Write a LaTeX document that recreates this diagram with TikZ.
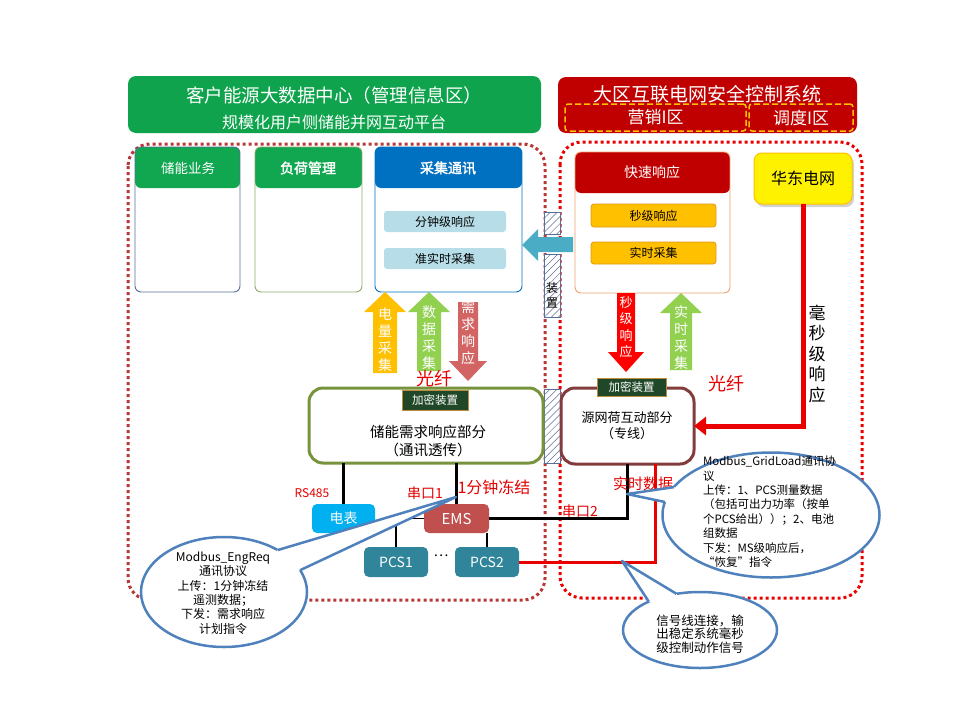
\documentclass[tikz,border=0pt]{standalone}
\usepackage{fontspec}
\setmainfont{Noto Sans CJK SC}[AutoFakeBold=2]
\usetikzlibrary{patterns.meta,arrows.meta,shapes.geometric,shadows}
\definecolor{hgreen}{RGB}{14,163,76}
\definecolor{bgreen}{RGB}{17,166,80}
\definecolor{hblue}{RGB}{0,112,192}
\definecolor{dred}{RGB}{192,0,0}
\definecolor{ldred}{RGB}{185,55,55}
\definecolor{bred}{RGB}{235,0,0}
\definecolor{gold}{RGB}{255,192,0}
\definecolor{dgold}{RGB}{225,150,20}
\definecolor{lgreen}{RGB}{146,208,80}
\definecolor{rose}{RGB}{210,100,100}
\definecolor{tealA}{RGB}{75,172,198}
\definecolor{ltteal}{RGB}{183,222,232}
\definecolor{cyanB}{RGB}{0,176,240}
\definecolor{emsred}{RGB}{192,80,77}
\definecolor{pcsteal}{RGB}{49,133,155}
\definecolor{callb}{RGB}{79,129,189}
\definecolor{oliveB}{RGB}{119,147,60}
\definecolor{maroonB}{RGB}{130,60,60}
\definecolor{encg}{RGB}{32,72,40}
\definecolor{encb}{RGB}{190,140,60}
\definecolor{pgrey}{RGB}{90,110,150}
\definecolor{pgreen}{RGB}{140,170,110}
\definecolor{porange}{RGB}{240,160,110}
\definecolor{txtred}{RGB}{230,0,0}
\newcommand\fsz[2]{\fontsize{#1}{#2}\selectfont}
\newcommand\bx[7]{\node[#6, minimum width={(#4)-(#2)}, minimum height={(#5)-(#3)}] (#1) at ({((#2)+(#4))/2},{((#3)+(#5))/2}) {#7};}
\newcommand\uparr[7]{\fill[#7] ({#1-#4},#3) -- ({#1-#4},{#2+#6}) -- ({#1-#5},{#2+#6}) -- (#1,#2) -- ({#1+#5},{#2+#6}) -- ({#1+#4},{#2+#6}) -- ({#1+#4},#3) -- cycle;}
\newcommand\dnarr[7]{\fill[#7] ({#1-#4},#3) -- ({#1-#4},{#2-#6}) -- ({#1-#5},{#2-#6}) -- (#1,#2) -- ({#1+#5},{#2-#6}) -- ({#1+#4},{#2-#6}) -- ({#1+#4},#3) -- cycle;}
\tikzset{
  region/.style={rounded corners=22pt, line width=3pt, dash pattern=on 3pt off 3pt},
  panel/.style={draw, rounded corners=6pt, line width=0.9pt},
  hdrfill/.style={path picture={\fill[#1] (path picture bounding box.north west) rectangle ([yshift=-41pt]path picture bounding box.north east);}},
  inbox/.style={rounded corners=3pt, font=\fsz{12}{14}},
  enc/.style={fill=encg, draw=encb, line width=1pt, text=white, font=\fsz{11.5}{13}},
  hatch/.style={draw=pgrey, line width=0.8pt, preaction={fill=white}, pattern={Lines[angle=45,distance=5pt,line width=0.5pt]}, pattern color=pgrey},
  dev/.style={rounded corners=5pt, text=white, font=\fsz{14}{16}},
  blk/.style={line width=3pt, draw=black},
  thinblk/.style={line width=1.2pt, draw=black},
  redl/.style={line width=3pt, draw=bred},
  callout/.style={ellipse, draw=callb, line width=2.5pt, fill=white},
  tail/.style={draw=callb, line width=2.5pt, line join=round},
  redtxt/.style={text=txtred},
  vtxt/.style={align=center, text=white, font=\fsz{14}{17}},
}
\begin{document}
\begin{tikzpicture}[x=1pt,y=-1pt, every node/.style={inner sep=0pt,outer sep=0pt}]
\useasboundingbox[fill=white] (0,0) rectangle (960,720);
% regions
\draw[region, draw=ldred] (128,144) rectangle (545,600);
\draw[region, draw=bred] (560,142) rectangle (862,598);
% headers
\bx{hg}{128}{76}{541}{133}{fill=hgreen, rounded corners=8pt}{}
\node[text=white, font=\fsz{18.5}{22}] (hg1) at (334,95) {客户能源大数据中心（管理信息区）};
\node[text=white, font=\fsz{16}{19}] (hg2) at (334,122) {规模化用户侧储能并网互动平台};
\bx{hr}{558}{77}{857}{133}{fill=dred, rounded corners=8pt}{}
\node[text=white, font=\fsz{19}{22}] (hr1) at (707,94) {大区互联电网安全控制系统};
\bx{yx}{565}{104}{746}{131}{draw=gold, dash pattern=on 6pt off 3pt, line width=1.5pt, rounded corners=3pt, text=white, font=\fsz{17}{20}}{营销I区}
\bx{dd}{749}{104}{853}{131}{draw=gold, dash pattern=on 6pt off 3pt, line width=1.5pt, rounded corners=3pt, text=white, font=\fsz{17}{20}}{调度I区}
% panels
\bx{p1}{135}{147}{240}{292}{panel, draw=pgrey, hdrfill=bgreen}{}
\node[text=white, font=\fsz{13.5}{16}] (p1t) at (188,168) {储能业务};
\bx{p2}{255}{147}{362}{292}{panel, draw=pgreen, hdrfill=bgreen}{}
\node[text=white, font={\bfseries\fsz{14}{16}}] (p2t) at (308,168) {负荷管理};
\bx{p3}{375}{147}{522}{292}{panel, draw=hblue, hdrfill=hblue}{}
\node[text=white, font={\bfseries\fsz{14}{16}}] (p3t) at (448,168) {采集通讯};
\bx{p3a}{384}{211}{506}{232}{inbox, fill=ltteal}{分钟级响应}
\bx{p3b}{384}{248}{506}{269}{inbox, fill=ltteal}{准实时采集}
\bx{p4}{575}{152}{730}{293}{panel, draw=porange, hdrfill=dred}{}
\node[text=white, font=\fsz{14}{16}] (p4t) at (652,172) {快速响应};
\bx{p4a}{591}{204}{716}{227}{inbox, fill=gold, draw=dgold, line width=0.8pt}{秒级响应}
\bx{p4b}{591}{242}{716}{264}{inbox, fill=gold, draw=dgold, line width=0.8pt}{实时采集}
\bx{hd}{754}{153}{852}{204}{fill=yellow, draw=gold, line width=1pt, rounded corners=8pt, drop shadow={opacity=0.35,shadow xshift=2pt,shadow yshift=-3pt}, font=\fsz{16}{19}}{华东电网}
% isolation
\bx{h1}{544}{212}{560}{234}{hatch}{}
\bx{h2}{544}{254}{560}{317}{hatch}{}
\node[align=center, font=\fsz{12}{15}] (zz) at (552,295) {装\\置};
\bx{h3}{544}{389}{560}{463}{hatch}{}
\fill[tealA] (573,237) -- (538,237) -- (538,229) -- (522,245) -- (538,261) -- (538,252) -- (573,252) -- cycle;
% block arrows
\uparr{385}{292}{373}{12}{21}{20}{gold}
\node[vtxt] (a1) at (385,340) {电\\量\\采\\集};
\uparr{429}{292}{371}{12}{21}{20}{lgreen}
\node[vtxt] (a2) at (429,338) {数\\据\\采\\集};
\dnarr{468}{381}{302}{10}{19}{20}{rose}
\node[vtxt] (a3) at (468,333) {需\\求\\响\\应};
\dnarr{626}{372}{293}{9}{18}{20}{red}
\node[vtxt, font=\fsz{13}{16.5}] (a4) at (626,327) {秒\\级\\响\\应};
\uparr{681}{293}{370}{11}{21}{20}{lgreen}
\node[vtxt] (a5) at (681,338) {实\\时\\采\\集};
\node[redtxt, font=\fsz{18}{20}] (gx1) at (434,379) {光纤};
\node[redtxt, font=\fsz{18}{20}] (gx2) at (726,384) {光纤};
\node[align=center, font=\fsz{17}{20.5}] (hm) at (817,354) {毫\\秒\\级\\响\\应};
% main boxes
\bx{ess}{309}{388}{543}{463}{draw=oliveB, line width=3pt, rounded corners=14pt}{}
\node[font=\fsz{14.5}{18}, align=center] (esst) at (428,441) {储能需求响应部分\\（通讯透传）};
\bx{ywh}{561}{388}{694}{464}{draw=maroonB, line width=3pt, rounded corners=14pt}{}
\node[font=\fsz{13}{16}, align=center] (ywht) at (627,426) {源网荷互动部分\\（专线）};
\bx{enc1}{402}{390}{468}{410}{enc}{加密装置}
\bx{enc2}{597}{378}{666}{396}{enc}{加密装置}
% devices
\bx{meter}{312}{504}{375}{533}{dev, fill=cyanB}{电表}
\bx{ems}{424}{504}{489}{533}{dev, fill=emsred, font=\fsz{15}{17}}{EMS}
\bx{pcs1}{364}{547}{428}{577}{dev, fill=pcsteal}{PCS1}
\bx{pcs2}{455}{547}{519}{577}{dev, fill=pcsteal}{PCS2}
\node[font=\fsz{14}{16}] (dots) at (441,556) {…};
% connectors
\draw[blk] (meter.north) -- (meter.north |- ess.south);
\draw[blk] (ems.north) -- (ems.north |- ess.south);
\draw[blk] (ems.east) -| (ywh.south);
\draw[thinblk] (ems.west) -| (pcs1.north);
\draw[thinblk] (pcs2.north) -- (pcs2.north |- ems.south);
\draw[redl] (pcs2.east) -| ([xshift=28pt]ywh.south);
\draw[draw=bred, line width=5pt, -{Triangle[length=12pt,width=18pt]}] (hd.south) |- (ywh.east);
% red labels
\node[redtxt, font=\fsz{12}{14}] (rs) at (312,493) {RS485};
\node[redtxt, font=\fsz{14}{16}] (ck1) at (425,493) {串口1};
\node[redtxt, font=\fsz{16}{18}] (fz) at (494,487) {1分钟冻结};
\node[redtxt, font=\fsz{14}{16}] (ck2) at (580,511) {串口2};
\node[redtxt, font=\fsz{15}{17}] (ss) at (643,484) {实时数据};
% callout left
\node[callout, minimum width=166pt, minimum height=110pt] (c1) at (224,592) {};
\coordinate (c1tip) at (456,497);
\fill[white] (c1.38) -- (c1tip) -- (c1.16) -- (c1.center) -- cycle;
\draw[tail] (c1.38) -- (c1tip) -- (c1.16);
\node[font=\fsz{12}{14.3}, align=center] (c1t) at (223,593) {Modbus\_EngReq\\通讯协议\\上传：1分钟冻结\\遥测数据；\\下发：需求响应\\计划指令};
% callout right 1
\node[callout, minimum width=217pt, minimum height=125pt] (c2) at (771,515) {};
\coordinate (c2tip) at (627,494);
\fill[white] (c2.164) -- (c2tip) -- (c2.173) -- (c2.center) -- cycle;
\draw[tail] (c2.164) -- (c2tip) -- (c2.173);
\node[font=\fsz{11.5}{14.4}, align=left, anchor=north west] (c2t) at (703,456) {Modbus\_GridLoad通讯协\\议\\上传：1、PCS测量数据\\（包括可出力功率（按单\\个PCS给出））；2、电池\\组数据\\下发：MS级响应后，\\“恢复”指令};
% callout right 2
\node[callout, minimum width=154pt, minimum height=76pt] (c3) at (700,630) {};
\coordinate (c3tip) at (622,561);
\fill[white] (c3.151) -- (c3tip) -- (c3.123) -- (c3.center) -- cycle;
\draw[tail] (c3.151) -- (c3tip) -- (c3.123);
\node[font=\fsz{12.5}{13.5}, align=center] (c3t) at (700,634) {信号线连接，输\\出稳定系统毫秒\\级控制动作信号};
\end{tikzpicture}
\end{document}
